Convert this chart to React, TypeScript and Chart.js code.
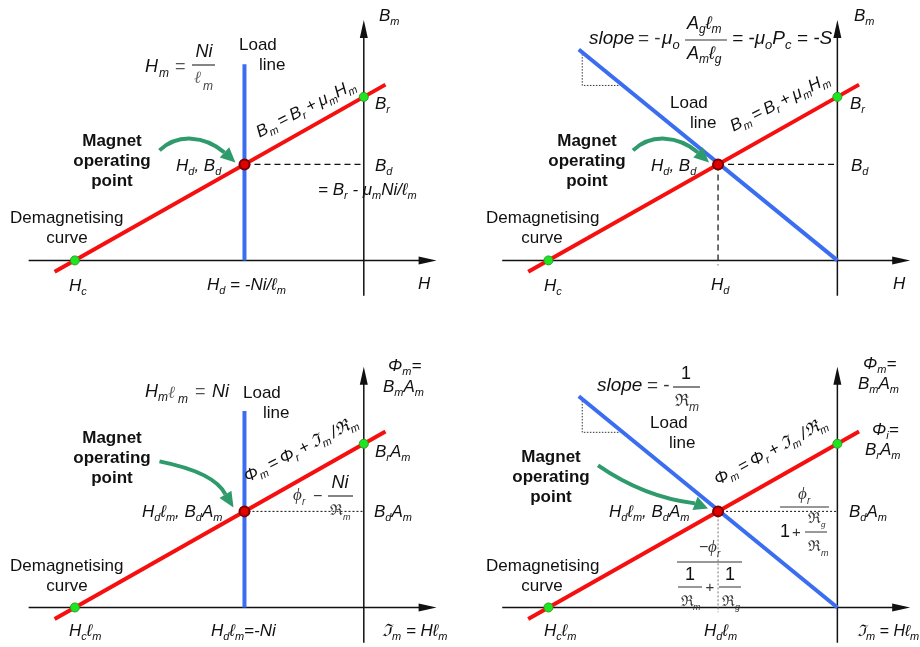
import React, { useEffect, useRef } from "react";
import { Chart, registerables } from "chart.js";
Chart.register(...registerables);

// ---------- data (normalised units: H in |Hc|, B in Br) ----------
const coerciveH = [-1];
const coerciveB = [0];
const remanenceH = [0];
const remanenceB = [1];
const demagH = [-1.07, 0.075];
const demagB = [-0.07, 1.075];
const operatingH = [-0.413];
const operatingB = [0.587];
const verticalLoadH = [-0.413, -0.413];
const verticalLoadB = [0, 1.2];
const slopedLoadH = [-0.895, 0];
const slopedLoadB = [1.29, 0];
const guideHorizH = [-0.413, 0];
const guideHorizB = [0.587, 0.587];
const guideVertH = [-0.413, -0.413];
const guideVertB = [0.587, -0.03];
const slopeTriH = [-0.883, -0.883, -0.752];
const slopeTriB = [1.28, 1.07, 1.07];
const axisH = [-1.16, 0.252];
const axisB = [-0.216, 1.47];

// ---------- text helpers ----------
const FONT = "'Liberation Sans', Arial, Helvetica, sans-serif";
const SERIF = "'Liberation Serif', 'Times New Roman', serif";
type St = { size: number; italic?: boolean; bold?: boolean; color?: string; family?: string };
const N: St = { size: 17 };
const BO: St = { size: 17, bold: true };
const I: St = { size: 17, italic: true };
const TS = "\u2009"; // thin space

function runs(s: string) {
  const out: { t: string; sub: boolean }[] = [];
  const re = /_\{([^}]*)\}/g;
  let last = 0;
  let m: RegExpExecArray | null;
  while ((m = re.exec(s))) {
    if (m.index > last) out.push({ t: s.slice(last, m.index), sub: false });
    out.push({ t: m[1], sub: true });
    last = re.lastIndex;
  }
  if (last < s.length) out.push({ t: s.slice(last), sub: false });
  return out;
}
const subSize = (st: St) => Math.round(st.size * 0.66);
const fnt = (st: St, size: number) =>
  `${st.italic ? "italic " : ""}${st.bold ? "bold " : ""}${size}px ${st.family || FONT}`;
function measure(ctx: CanvasRenderingContext2D, s: string, st: St) {
  let w = 0;
  for (const r of runs(s)) {
    ctx.font = fnt(st, r.sub ? subSize(st) : st.size);
    w += ctx.measureText(r.t).width;
  }
  return w;
}
function T(ctx: CanvasRenderingContext2D, s: string, x: number, y: number, st: St, align = "left") {
  ctx.save();
  ctx.fillStyle = st.color || "#111";
  ctx.textBaseline = "alphabetic";
  ctx.textAlign = "left";
  const w = measure(ctx, s, st);
  let cx = align === "center" ? x - w / 2 : align === "right" ? x - w : x;
  for (const r of runs(s)) {
    const sz = r.sub ? subSize(st) : st.size;
    ctx.font = fnt(st, sz);
    ctx.fillText(r.t, cx, y + (r.sub ? st.size * 0.24 : 0));
    cx += ctx.measureText(r.t).width;
  }
  ctx.restore();
}
function bar(ctx: CanvasRenderingContext2D, x1: number, x2: number, y: number, color = "#333", w = 1.2) {
  ctx.save();
  ctx.strokeStyle = color;
  ctx.lineWidth = w;
  ctx.beginPath();
  ctx.moveTo(x1, y);
  ctx.lineTo(x2, y);
  ctx.stroke();
  ctx.restore();
}
function rot(ctx: CanvasRenderingContext2D, s: string, cx: number, cy: number, deg: number) {
  ctx.save();
  ctx.translate(cx, cy);
  ctx.rotate((-deg * Math.PI) / 180);
  T(ctx, s, 0, 0, I, "center");
  ctx.restore();
}
function magnet(ctx: CanvasRenderingContext2D, cx: number, y: number) {
  T(ctx, "Magnet", cx, y, BO, "center");
  T(ctx, "operating", cx, y + 20, BO, "center");
  T(ctx, "point", cx, y + 40, BO, "center");
}
function demag(ctx: CanvasRenderingContext2D, x: number, cxCurve: number, y: number) {
  T(ctx, "Demagnetising", x, y, N);
  T(ctx, "curve", cxCurve, y + 20, N, "center");
}
// green curved arrow, coordinates relative to operating point
function greenArrow(ctx: CanvasRenderingContext2D, ox: number, oy: number, p: number[][]) {
  const [p0, c1, c2, p3, tip] = p;
  ctx.save();
  ctx.strokeStyle = "#2f9a6c";
  ctx.fillStyle = "#2f9a6c";
  ctx.lineWidth = 4;
  ctx.beginPath();
  ctx.moveTo(ox + p0[0], oy + p0[1]);
  ctx.bezierCurveTo(ox + c1[0], oy + c1[1], ox + c2[0], oy + c2[1], ox + p3[0], oy + p3[1]);
  ctx.stroke();
  const dx = tip[0] - p3[0];
  const dy = tip[1] - p3[1];
  const L = Math.hypot(dx, dy);
  const nx = -dy / L, ny = dx / L;
  const hw = 7;
  ctx.beginPath();
  ctx.moveTo(ox + tip[0], oy + tip[1]);
  ctx.lineTo(ox + p3[0] + nx * hw, oy + p3[1] + ny * hw);
  ctx.lineTo(ox + p3[0] - nx * hw, oy + p3[1] - ny * hw);
  ctx.closePath();
  ctx.fill();
  ctx.restore();
}

type Draw = (ctx: CanvasRenderingContext2D, ox: number, oy: number) => void;

const FORMULA_B = `B_{m}${TS}=${TS}B_{r}${TS}+${TS}μ_{m}H_{m}`;
const FORMULA_PHI = `Φ_{m}${TS}=${TS}Φ_{r}${TS}+${TS}ℑ_{m}${TS}/ℜ_{m}`;

const draw1: Draw = (ctx, ox, oy) => {
  T(ctx, "B_{m}", 379, 21, I);
  T(ctx, "H", 145, 72, { size: 18, italic: true });
  T(ctx, "m", 159, 77, { size: 12, italic: true });
  T(ctx, "=", 175, 72, { size: 18, color: "#555" });
  T(ctx, "Ni", 204, 57, { size: 18, italic: true }, "center");
  bar(ctx, 192, 215, 65);
  T(ctx, "ℓ", 194, 83, { size: 17, italic: true, color: "#666", family: SERIF });
  T(ctx, "m", 203, 90, { size: 12, italic: true, color: "#444" });
  T(ctx, "Load", 239, 50, N);
  T(ctx, "line", 259, 70, N);
  rot(ctx, FORMULA_B, 308, 113, 27);
  T(ctx, "B_{r}", 375, 109, I);
  magnet(ctx, 112, 146);
  T(ctx, "H_{d}, B_{d}", 176, 171, I);
  T(ctx, "B_{d}", 375, 171, I);
  T(ctx, "= B_{r} - μ_{m}Ni/ℓ_{m}", 318, 195, I);
  demag(ctx, 10, 67, 223);
  T(ctx, "H_{c}", 69, 291, I);
  T(ctx, "H_{d} = -Ni/ℓ_{m}", 207, 290, I);
  T(ctx, "H", 418, 289, I);
  greenArrow(ctx, ox, oy, [[-85, -14], [-67, -31], [-40, -29], [-20, -12], [-9, -2]]);
};

const draw2: Draw = (ctx, ox, oy) => {
  T(ctx, "B_{m}", 394, 21, I);
  T(ctx, "slope", 129, 44, { size: 19, italic: true });
  T(ctx, "= -", 178, 44, { size: 19, color: "#333" });
  T(ctx, "μ_{o}", 202, 44, { size: 19, italic: true });
  T(ctx, "A_{g}ℓ_{m}", 227, 29, { size: 18, italic: true });
  bar(ctx, 225, 267, 40);
  T(ctx, "A_{m}ℓ_{g}", 227, 59, { size: 18, italic: true });
  T(ctx, "= -μ_{o}P_{c} = -S", 272, 44, { size: 19, italic: true });
  T(ctx, "Load", 210, 108, N);
  T(ctx, "line", 230, 128, N);
  rot(ctx, FORMULA_B, 322, 107, 27);
  T(ctx, "B_{r}", 390, 109, I);
  magnet(ctx, 127, 146);
  T(ctx, "H_{d}, B_{d}", 191, 171, I);
  T(ctx, "B_{d}", 391, 171, I);
  demag(ctx, 26, 82, 223);
  T(ctx, "H_{c}", 84, 291, I);
  T(ctx, "H_{d}", 251, 290, I);
  T(ctx, "H", 433, 289, I);
  greenArrow(ctx, ox, oy, [[-85, -14], [-67, -31], [-40, -29], [-20, -12], [-9, -2]]);
};

const draw3: Draw = (ctx, ox, oy) => {
  T(ctx, "Φ_{m}=", 388, 51, I);
  T(ctx, "B_{m}A_{m}", 383, 72, I);
  T(ctx, "H", 145, 77, { size: 18, italic: true });
  T(ctx, "m", 158, 81, { size: 12, italic: true });
  T(ctx, "ℓ", 168, 78, { size: 17, italic: true, color: "#666", family: SERIF });
  T(ctx, "m", 178, 83, { size: 12, italic: true });
  T(ctx, "=", 195, 77, { size: 18, color: "#555" });
  T(ctx, "Ni", 212, 77, { size: 18, italic: true });
  T(ctx, "Load", 243, 78, N);
  T(ctx, "line", 263, 98, N);
  magnet(ctx, 112, 123);
  rot(ctx, FORMULA_PHI, 303, 134, 27);
  T(ctx, "B_{r}A_{m}", 375, 137, I);
  T(ctx, "ϕ", 293, 180, { size: 17, italic: true, family: SERIF, color: "#333" });
  T(ctx, "r", 302, 185, { size: 10, italic: true, color: "#333" });
  T(ctx, "−", 313, 181, { size: 16, color: "#333" });
  T(ctx, "Ni", 340, 168, { size: 18, italic: true }, "center");
  bar(ctx, 328, 353, 176);
  T(ctx, "ℜ", 330, 195, { size: 15, color: "#333" });
  T(ctx, "m", 343, 200, { size: 9, italic: true, color: "#333" });
  T(ctx, "H_{d}ℓ_{m}, B_{d}A_{m}", 142, 197, I);
  T(ctx, "B_{d}A_{m}", 374, 197, I);
  demag(ctx, 10, 67, 251);
  T(ctx, "H_{c}ℓ_{m}", 69, 316, I);
  T(ctx, "H_{d}ℓ_{m}=-Ni", 211, 316, I);
  T(ctx, "ℑ_{m} = Hℓ_{m}", 382, 316, I);
  greenArrow(ctx, ox, oy, [[-85, -50], [-50, -43], [-27, -33], [-19, -17], [-11, -4]]);
};

const draw4: Draw = (ctx, ox, oy) => {
  T(ctx, "Φ_{m}=", 403, 49, I);
  T(ctx, "B_{m}A_{m}", 398, 69, I);
  T(ctx, "slope", 137, 71, { size: 19, italic: true });
  T(ctx, "= -", 187, 71, { size: 19, color: "#333" });
  T(ctx, "1", 226, 59, { size: 18 }, "center");
  bar(ctx, 213, 240, 67);
  T(ctx, "ℜ", 215, 86, { size: 17, color: "#333" });
  T(ctx, "m", 229, 91, { size: 12, italic: true, color: "#333" });
  T(ctx, "Load", 190, 108, N);
  T(ctx, "line", 209, 128, N);
  T(ctx, "Φ_{i}=", 412, 115, I);
  T(ctx, "B_{r}A_{m}", 405, 135, I);
  magnet(ctx, 91, 142);
  rot(ctx, FORMULA_PHI, 313, 136, 28);
  T(ctx, "H_{d}ℓ_{m}, B_{d}A_{m}", 149, 197, I);
  T(ctx, "B_{d}A_{m}", 389, 197, I);
  // right fraction
  T(ctx, "ϕ", 338, 179, { size: 17, italic: true, family: SERIF, color: "#333" });
  T(ctx, "r", 347, 184, { size: 10, italic: true, color: "#333" });
  bar(ctx, 320, 369, 187);
  T(ctx, "1", 320, 217, { size: 18 });
  T(ctx, "+", 332, 217, { size: 15, color: "#333" });
  T(ctx, "ℜ", 348, 203, { size: 15, color: "#333" });
  T(ctx, "g", 361, 207, { size: 8, italic: true, color: "#333" });
  bar(ctx, 345, 367, 212, "#333", 1);
  T(ctx, "ℜ", 348, 231, { size: 15, color: "#333" });
  T(ctx, "m", 361, 236, { size: 9, italic: true, color: "#333" });
  // bottom fraction
  T(ctx, "−", 239, 232, { size: 16, color: "#333" });
  T(ctx, "ϕ", 248, 232, { size: 17, italic: true, family: SERIF, color: "#333" });
  T(ctx, "r", 257, 237, { size: 10, italic: true, color: "#333" });
  bar(ctx, 217, 282, 242);
  T(ctx, "1", 230, 260, { size: 18 }, "center");
  bar(ctx, 218, 242, 267, "#333", 1);
  T(ctx, "ℜ", 221, 286, { size: 15, color: "#333" });
  T(ctx, "m", 233, 290, { size: 9, italic: true, color: "#333" });
  T(ctx, "+", 250, 272, { size: 15, color: "#333" }, "center");
  T(ctx, "1", 270, 260, { size: 18 }, "center");
  bar(ctx, 259, 281, 267, "#333", 1);
  T(ctx, "ℜ", 262, 286, { size: 15, color: "#333" });
  T(ctx, "g", 275, 290, { size: 9, italic: true, color: "#333" });
  demag(ctx, 26, 82, 251);
  T(ctx, "H_{c}ℓ_{m}", 84, 316, I);
  T(ctx, "H_{d}ℓ_{m}", 244, 316, I);
  T(ctx, "ℑ_{m} = Hℓ_{m}", 397, 316, { size: 16, italic: true });
  greenArrow(ctx, ox, oy, [[-120, -46], [-94, -28], [-64, -13], [-23, -8], [-10, -3]]);
};

const pts = (xs: number[], ys: number[]) => xs.map((x, i) => ({ x, y: ys[i] }));

function makeDatasets(sloped: boolean, flux: boolean) {
  const dash = flux ? [2, 2] : [6, 4];
  const ds: any[] = [
    {
      data: pts(operatingH, operatingB), showLine: false, pointRadius: 5,
      pointBackgroundColor: "#e00000", pointBorderColor: "#7a0000", pointBorderWidth: 2, order: 0,
    },
    {
      data: [...pts(remanenceH, remanenceB), ...pts(coerciveH, coerciveB)], showLine: false, pointRadius: 4.5,
      pointBackgroundColor: "#1ee61e", pointBorderColor: "#2c9a2c", pointBorderWidth: 1, order: 1,
    },
    { data: pts(demagH, demagB), showLine: true, borderColor: "#f50f0f", borderWidth: 4, pointRadius: 0, order: 2 },
    {
      data: sloped ? pts(slopedLoadH, slopedLoadB) : pts(verticalLoadH, verticalLoadB),
      showLine: true, borderColor: "#3a6df0", borderWidth: 4, pointRadius: 0, order: 3,
    },
    {
      data: pts(guideHorizH, guideHorizB), showLine: true, borderColor: "#111",
      borderWidth: flux ? 1 : 1.3, borderDash: dash, pointRadius: 0, order: 4,
    },
  ];
  if (sloped) {
    ds.push({
      data: pts(guideVertH, guideVertB), showLine: true, borderColor: flux ? "#777" : "#222",
      borderWidth: flux ? 1 : 1.3, borderDash: dash, pointRadius: 0, order: 5,
    });
    ds.push({
      data: pts(slopeTriH, slopeTriB), showLine: true, borderColor: "#333",
      borderWidth: 1, borderDash: [1.5, 1.5], pointRadius: 0, order: 6,
    });
  }
  return ds;
}

function drawAxes(chart: any) {
  const { ctx, scales } = chart;
  const x = scales.x, y = scales.y;
  const x0 = x.getPixelForValue(0), y0 = y.getPixelForValue(0);
  const xa = x.getPixelForValue(axisH[0]), xb = x.getPixelForValue(axisH[1]);
  const ya = y.getPixelForValue(axisB[0]), yb = y.getPixelForValue(axisB[1]);
  ctx.save();
  ctx.strokeStyle = "#111";
  ctx.fillStyle = "#111";
  ctx.lineWidth = 1.5;
  ctx.beginPath();
  ctx.moveTo(xa, y0);
  ctx.lineTo(xb - 10, y0);
  ctx.moveTo(x0, ya);
  ctx.lineTo(x0, yb + 10);
  ctx.stroke();
  ctx.beginPath();
  ctx.moveTo(xb, y0);
  ctx.lineTo(xb - 18, y0 - 4);
  ctx.lineTo(xb - 18, y0 + 4);
  ctx.closePath();
  ctx.moveTo(x0, yb);
  ctx.lineTo(x0 - 4, yb + 18);
  ctx.lineTo(x0 + 4, yb + 18);
  ctx.closePath();
  ctx.fill();
  ctx.restore();
}

type Cfg = {
  left: number; top: number; w: number; h: number;
  xMin: number; xMax: number; yMin: number; yMax: number;
  sloped: boolean; flux: boolean; draw: Draw;
};

const PX_H = 298, PX_B = 171;
const panels: Cfg[] = [
  { left: 0, top: 0, w: 460, h: 320, xMin: -368 / PX_H, xMax: 92 / PX_H, yMin: -55 / PX_B, yMax: 265 / PX_B, sloped: false, flux: false, draw: draw1 },
  { left: 460, top: 0, w: 460, h: 320, xMin: -382 / PX_H, xMax: 78 / PX_H, yMin: -55 / PX_B, yMax: 265 / PX_B, sloped: true, flux: false, draw: draw2 },
  { left: 0, top: 320, w: 460, h: 327, xMin: -368 / PX_H, xMax: 92 / PX_H, yMin: -34 / PX_B, yMax: 293 / PX_B, sloped: false, flux: true, draw: draw3 },
  { left: 460, top: 320, w: 460, h: 327, xMin: -382 / PX_H, xMax: 78 / PX_H, yMin: -34 / PX_B, yMax: 293 / PX_B, sloped: true, flux: true, draw: draw4 },
];

function Panel({ cfg }: { cfg: Cfg }) {
  const ref = useRef<HTMLCanvasElement>(null);
  useEffect(() => {
    const canvas = ref.current!;
    const chart = new Chart(canvas, {
      type: "scatter",
      data: { datasets: makeDatasets(cfg.sloped, cfg.flux) },
      options: {
        responsive: false,
        maintainAspectRatio: false,
        animation: false,
        events: [],
        layout: { padding: 0 },
        plugins: { legend: { display: false }, tooltip: { enabled: false } },
        scales: {
          x: { type: "linear", min: cfg.xMin, max: cfg.xMax, display: false },
          y: { type: "linear", min: cfg.yMin, max: cfg.yMax, display: false },
        },
      },
      plugins: [
        { id: "axes", beforeDatasetsDraw: (c: any) => drawAxes(c) },
        {
          id: "notes",
          afterDatasetsDraw: (c: any) => {
            const ox = c.scales.x.getPixelForValue(operatingH[0]);
            const oy = c.scales.y.getPixelForValue(operatingB[0]);
            cfg.draw(c.ctx, ox, oy);
          },
        },
      ],
    } as any);
    return () => chart.destroy();
  }, [cfg]);
  return (
    <canvas
      ref={ref}
      width={cfg.w}
      height={cfg.h}
      style={{ position: "absolute", left: cfg.left, top: cfg.top, width: cfg.w, height: cfg.h }}
    />
  );
}

export default function App() {
  return (
    <div style={{ position: "fixed", left: 0, top: 0, width: 920, height: 647, background: "#fff", overflow: "hidden" }}>
      {panels.map((p, i) => (
        <Panel key={i} cfg={p} />
      ))}
    </div>
  );
}
